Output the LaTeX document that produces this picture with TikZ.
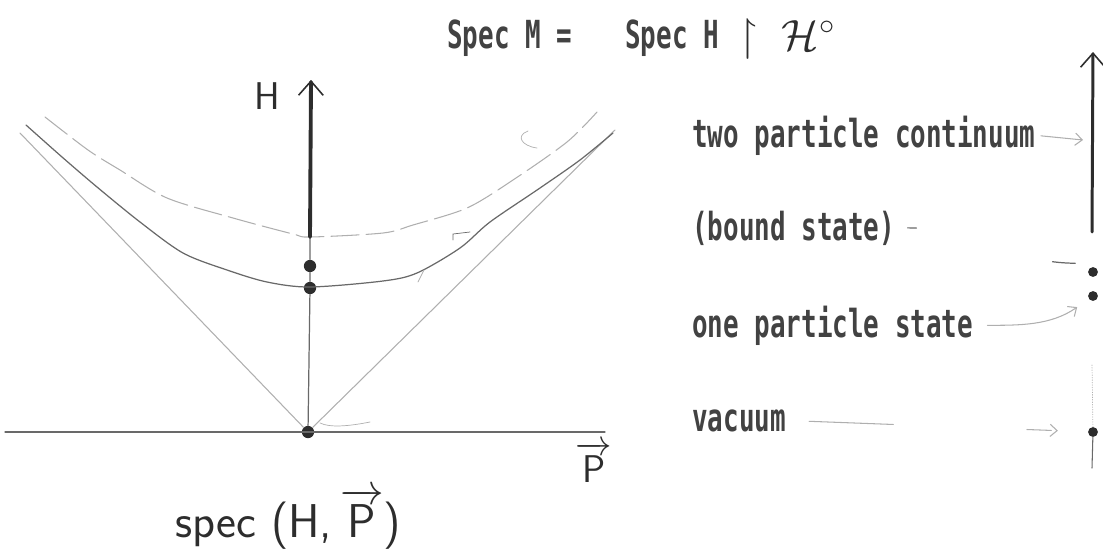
\documentclass[tikz,border=0pt]{standalone}
\usepackage{amsmath}
\usepackage{amssymb}
\usepackage{fontspec}
\usetikzlibrary{arrows.meta}
\newfontfamily\dotfont[FakeStretch=0.67]{DejaVu Sans Mono}
\definecolor{ink}{RGB}{45,45,45}
\definecolor{pencil}{RGB}{105,105,105}
\definecolor{faded}{RGB}{175,175,175}

\begin{document}
\begin{tikzpicture}[x=0.02cm, y=-0.02cm, line cap=round,
    label/.style={font=\dotfont\bfseries\fontsize{22}{26}\selectfont, text=ink!90, inner sep=0pt},
    hand/.style={font=\sffamily\fontsize{22}{26}\selectfont, text=ink, inner sep=0pt},
    dot/.style={circle, fill=ink, inner sep=0pt, minimum size=7pt},
    sdot/.style={circle, fill=ink, inner sep=0pt, minimum size=5.6pt},
    spine/.style={ink, line width=2.2pt, -{Straight Barb[length=8pt, width=14pt, line width=0.9pt]}},
    curve/.style={pencil, line width=0.7pt},
    cone/.style={faded, line width=0.6pt},
    pointer/.style={faded, line width=0.6pt, -{Straight Barb[length=4pt, width=7pt]}}]
  \useasboundingbox (0,0) rectangle (1103,558);

  % spec (H, P) picture
  \coordinate (thrL) at (310,237);
  \coordinate (topL) at (311,80);
  \node[dot] (vacL) at (308,432) {};
  \node[dot] (oneL) at (310,288) {};
  \node[dot] (boundL) at (310,266) {};
  \draw[pencil, line width=0.6pt] (5,432) -- (605,432);
  \draw[cone] (20,133) -- (vacL) -- (615,130);
  \draw[faded, line width=0.6pt, dash pattern=on 16pt off 4pt] plot[smooth] coordinates {(45,117) (88,150) (120,170) (167,198) (233,218) (293,234) (310,237) (383,233) (413,225) (467,208) (513,180) (567,142) (597,112)};
  \draw[curve] plot[smooth] coordinates {(26,125) (62,157) (97,187) (140,222) (183,253) (227,270) (267,282) (310,287) (383,281) (417,273) (460,248) (490,222) (540,188) (580,160) (613,133)};
  \draw[faded] (528,131) .. controls (515,136) and (522,146) .. (537,148);
  \draw[pencil] (453,240) -- (453,234) -- (470,232);
  \draw[faded] (418,282) -- (424,270);
  \draw[faded] (320,423) .. controls (330,428) and (350,426) .. (370,422);
  \draw[pencil, line width=0.7pt] (vacL) -- (oneL) -- (boundL) -- (thrL);
  \draw[spine] (thrL) -- (topL);
  \node[hand] (Hlab) at (267,96) {H};
  \node[hand, anchor=base] (Plab) at (594,482) {$\overrightarrow{\mathsf{P}}$};
  \node[hand, anchor=base west, font=\sffamily\fontsize{27}{32}\selectfont] (spec) at (175,537) {spec (H,\,$\overrightarrow{\mathsf{P}}$)};

  % title
  \node[label, anchor=base west] (specM) at (447,48) {Spec M =};
  \node[label, anchor=base west] (specH) at (625,48) {Spec H};
  \node[anchor=base west, inner sep=0pt, text=ink, font=\fontsize{26}{30}\selectfont] (restr) at (738,50) {$\upharpoonright\;\mathcal{H}^{\circ}$};

  % spec M on the right
  \coordinate (thrR) at (1092,232);
  \coordinate (topR) at (1093,52);
  \coordinate (contR) at (1083,140);
  \node[sdot] (boundR) at (1093,272) {};
  \node[sdot] (oneR) at (1093,296) {};
  \node[sdot] (vacR) at (1093,432) {};
  \draw[spine, line width=1.7pt] (thrR) -- (topR);
  \draw[faded, densely dotted] (1092,365) -- (vacR);
  \draw[pencil, line width=0.6pt] (vacR) -- (1092,468);

  \node[label, anchor=base west] (two) at (692,147) {two particle continuum};
  \node[label, anchor=base west] (bound) at (692,240) {(bound state)};
  \node[label, anchor=base west] (one) at (692,337) {one particle state};
  \node[label, anchor=base west] (vac) at (692,431) {vacuum};

  \draw[pointer, shorten <=3pt] (two.east) -- (contR);
  \draw[pencil, line width=0.7pt, shorten <=7pt, shorten >=7pt, dash pattern=on 5pt off 80pt on 13pt off 30pt] (bound.east) to[out=0, in=180] ([yshift=5pt]boundR.west);
  \draw[pointer, shorten <=8pt, shorten >=8pt] (one.east) to[out=0, in=215] (oneR);
  \draw[pointer, shorten <=13pt, shorten >=17pt, dash pattern=on 48pt off 76pt on 14pt] (vac.east) -- (vacR);
\end{tikzpicture}
\end{document}
